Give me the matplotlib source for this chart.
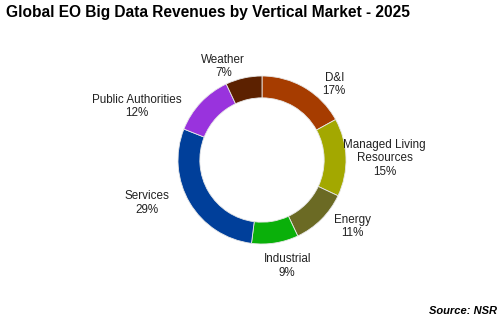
import matplotlib.pyplot as plt

plt.rcParams['font.family'] = ['Liberation Sans', 'DejaVu Sans']

markets = ['D&I', 'Managed Living\nResources', 'Energy', 'Industrial',
           'Services', 'Public Authorities', 'Weather']
shares = [17, 15, 11, 9, 29, 12, 7]
colors = ['#A63C00', '#A3A800', '#6B6A24', '#0AB00A',
          '#003F9A', '#9933DD', '#5C2100']

# label anchor points, in units of the donut radius
label_pos = [(0.86, 0.90), (1.46, 0.02), (1.08, -0.79), (0.30, -1.26),
             (-1.37, -0.51), (-1.49, 0.64), (-0.46, 1.11)]

W, H = 504, 323
fig = plt.figure(figsize=(W / 100, H / 100), dpi=100)
cx, cy, r = 262, 160, 84
ax = fig.add_axes([(cx - r) / W, (H - cy - r) / H, 2 * r / W, 2 * r / H])

ax.pie(shares, colors=colors, startangle=90, counterclock=False, radius=1,
       wedgeprops=dict(width=0.26, edgecolor='#e8e8e8', linewidth=0.6))
ax.set_xlim(-1, 1)
ax.set_ylim(-1, 1)
ax.axis('off')

for name, val, (x, y) in zip(markets, shares, label_pos):
    ax.text(x, y, f'{name}\n{val}%', ha='center', va='center', fontsize=8.4,
            color='#222222', linespacing=1.15, clip_on=False)

fig.text(6 / W, 1 - 13 / H, 'Global EO Big Data Revenues by Vertical Market - 2025',
         fontsize=11.2, fontweight='bold', ha='left', va='center')
fig.text(497 / W, 1 - 311 / H, 'Source: NSR', fontsize=8, fontweight='bold',
         fontstyle='italic', ha='right', va='center')

fig.savefig('out.png', dpi=100)
